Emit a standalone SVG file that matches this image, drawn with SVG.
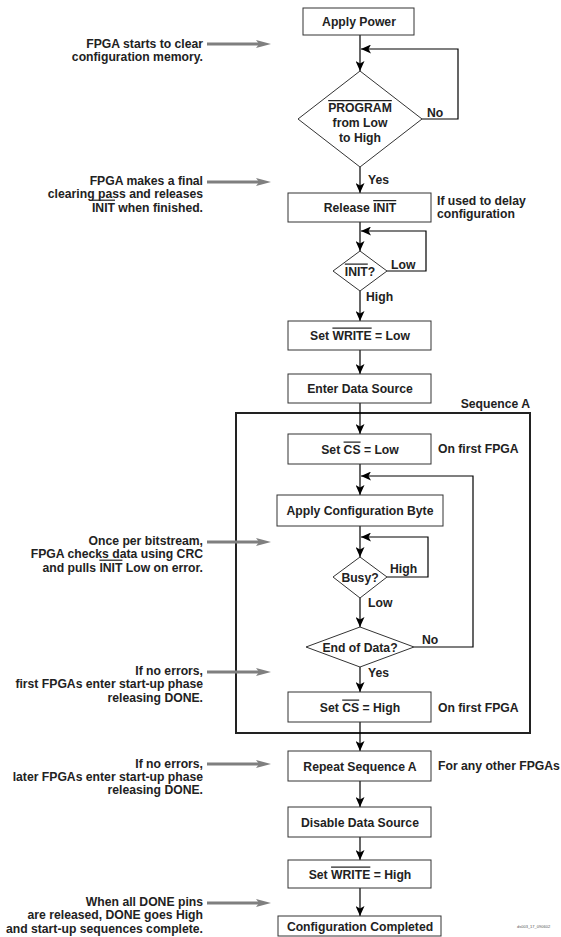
<svg xmlns="http://www.w3.org/2000/svg" width="561" height="937" viewBox="0 0 561 937">
<style>
text{font-family:"Liberation Sans",Arial,sans-serif;font-weight:bold;font-size:12.2px;fill:#222}
.c{text-anchor:middle}
.r{text-anchor:end}
.box{fill:#fff;stroke:#333;stroke-width:1}
.ln{fill:none;stroke:#000;stroke-width:1.2}
.ga{fill:none;stroke:#7f7f7f;stroke-width:3}
.seq{fill:none;stroke:#222;stroke-width:2}
.tiny{font-size:4px;font-weight:normal;fill:#555}
</style>
<defs>
<marker id="ah" markerWidth="10" markerHeight="9" refX="10" refY="4.5" orient="auto" markerUnits="userSpaceOnUse"><path d="M0,0 L10,4.5 L0,9 L2.5,4.5 z" fill="#000"/></marker>
<marker id="gh" markerWidth="15" markerHeight="8" refX="3" refY="4" orient="auto" markerUnits="userSpaceOnUse"><path d="M0,0 L15,4 L0,8 L3,4 z" fill="#7f7f7f"/></marker>
</defs>

<rect id="sequenceA" class="seq" x="236" y="413" width="294" height="320"/>
<text x="530" y="408" class="r">Sequence A</text>

<g id="connectors">
<path class="ln" d="M360,35 V71" marker-end="url(#ah)"/>
<path class="ln" d="M422,119 H458 V49 H361" marker-end="url(#ah)"/>
<path class="ln" d="M360,167 V193" marker-end="url(#ah)"/>
<path class="ln" d="M360,222 V251" marker-end="url(#ah)"/>
<path class="ln" d="M387,271 H426 V231 H361" marker-end="url(#ah)"/>
<path class="ln" d="M360,291 V321" marker-end="url(#ah)"/>
<path class="ln" d="M360,350 V374" marker-end="url(#ah)"/>
<path class="ln" d="M360,403 V434" marker-end="url(#ah)"/>
<path class="ln" d="M360,464 V495" marker-end="url(#ah)"/>
<path class="ln" d="M414,647 H473 V476 H361" marker-end="url(#ah)"/>
<path class="ln" d="M360,526 V557" marker-end="url(#ah)"/>
<path class="ln" d="M387,577 H428 V537 H361" marker-end="url(#ah)"/>
<path class="ln" d="M360,598 V627" marker-end="url(#ah)"/>
<path class="ln" d="M360,667 V692" marker-end="url(#ah)"/>
<path class="ln" d="M360,722 V751" marker-end="url(#ah)"/>
<path class="ln" d="M360,781 V807" marker-end="url(#ah)"/>
<path class="ln" d="M360,837 V860" marker-end="url(#ah)"/>
<path class="ln" d="M360,888 V916" marker-end="url(#ah)"/>
<text x="427" y="117">No</text>
<text x="368" y="184">Yes</text>
<text x="391" y="269">Low</text>
<text x="366" y="301">High</text>
<text x="390" y="573">High</text>
<text x="368" y="607">Low</text>
<text x="422" y="644">No</text>
<text x="368" y="677">Yes</text>
</g>

<g id="notes">
<path class="ga" d="M207,44 H259" marker-end="url(#gh)"/>
<path class="ga" d="M207,182 H259" marker-end="url(#gh)"/>
<path class="ga" d="M207,542 H259" marker-end="url(#gh)"/>
<path class="ga" d="M207,672 H259" marker-end="url(#gh)"/>
<path class="ga" d="M207,764 H259" marker-end="url(#gh)"/>
<path class="ga" d="M207,903 H259" marker-end="url(#gh)"/>
<text class="r" x="203" y="47.5">FPGA starts to clear</text>
<text class="r" x="203" y="61">configuration memory.</text>
<text class="r" x="203" y="185">FPGA makes a final</text>
<text class="r" x="203" y="198.3">clearing pass and releases</text>
<text class="r" x="203" y="211.6"><tspan text-decoration="overline">INIT</tspan> when finished.</text>
<text class="r" x="203" y="545">Once per bitstream,</text>
<text class="r" x="203" y="558.3">FPGA checks data using CRC</text>
<text class="r" x="203" y="571.6">and pulls <tspan text-decoration="overline">INIT</tspan> Low on error.</text>
<text class="r" x="203" y="675">If no errors,</text>
<text class="r" x="203" y="688.3">first FPGAs enter start-up phase</text>
<text class="r" x="203" y="701.6">releasing DONE.</text>
<text class="r" x="203" y="767.6">If no errors,</text>
<text class="r" x="203" y="781">later FPGAs enter start-up phase</text>
<text class="r" x="203" y="794.3">releasing DONE.</text>
<text class="r" x="203" y="906">When all DONE pins</text>
<text class="r" x="203" y="919.3">are released, DONE goes High</text>
<text class="r" x="203" y="932.6">and start-up sequences complete.</text>
<text x="437" y="205">If used to delay</text>
<text x="437" y="218.3">configuration</text>
<text x="438" y="452.5">On first FPGA</text>
<text x="438" y="711.5">On first FPGA</text>
<text x="438" y="770">For any other FPGAs</text>
<text class="tiny" x="517" y="928">ds003_17_090602</text>
</g>

<g id="applyPower"><rect class="box" x="303" y="8" width="111" height="27"/><text class="c" x="359" y="25.5">Apply Power</text></g>
<g id="programDecision"><path class="box" d="M360,71 L422,119 L360,167 L298,119 z"/>
<text class="c" x="360" y="112"><tspan text-decoration="overline">PROGRAM</tspan></text>
<text class="c" x="360" y="127">from Low</text>
<text class="c" x="360" y="142">to High</text></g>
<g id="releaseInit"><rect class="box" x="288" y="193" width="143" height="29"/><text class="c" x="360" y="212">Release <tspan text-decoration="overline">INIT</tspan></text></g>
<g id="initDecision"><path class="box" d="M360,251 L387,271 L360,291 L333,271 z"/><text class="c" x="360" y="275.5"><tspan text-decoration="overline">INIT</tspan>?</text></g>
<g id="setWriteLow"><rect class="box" x="288" y="321" width="143" height="29"/><text class="c" x="360" y="339.5">Set <tspan text-decoration="overline">WRITE</tspan> = Low</text></g>
<g id="enterDataSource"><rect class="box" x="288" y="374" width="143" height="29"/><text class="c" x="360" y="393">Enter Data Source</text></g>
<g id="setCsLow"><rect class="box" x="288" y="434" width="143" height="30"/><text class="c" x="360" y="453.5">Set <tspan text-decoration="overline">CS</tspan> = Low</text></g>
<g id="applyConfigByte"><rect class="box" x="277" y="495" width="166" height="31"/><text class="c" x="360" y="515">Apply Configuration Byte</text></g>
<g id="busyDecision"><path class="box" d="M360,557 L387,577 L360,598 L333,577 z"/><text class="c" x="360" y="581.5">Busy?</text></g>
<g id="endOfData"><path class="box" d="M360,627 L414,647 L360,667 L306,647 z"/><text class="c" x="360" y="651.5">End of Data?</text></g>
<g id="setCsHigh"><rect class="box" x="288" y="692" width="143" height="30"/><text class="c" x="360" y="711.5">Set <tspan text-decoration="overline">CS</tspan> = High</text></g>
<g id="repeatSeqA"><rect class="box" x="288" y="751" width="143" height="30"/><text class="c" x="360" y="770.5">Repeat Sequence A</text></g>
<g id="disableDataSource"><rect class="box" x="288" y="807" width="143" height="30"/><text class="c" x="360" y="826.5">Disable Data Source</text></g>
<g id="setWriteHigh"><rect class="box" x="288" y="860" width="143" height="28"/><text class="c" x="360" y="878.5">Set <tspan text-decoration="overline">WRITE</tspan> = High</text></g>
<g id="configCompleted"><rect class="box" x="278" y="916" width="163" height="20"/><text class="c" x="360" y="930.5">Configuration Completed</text></g>
</svg>
